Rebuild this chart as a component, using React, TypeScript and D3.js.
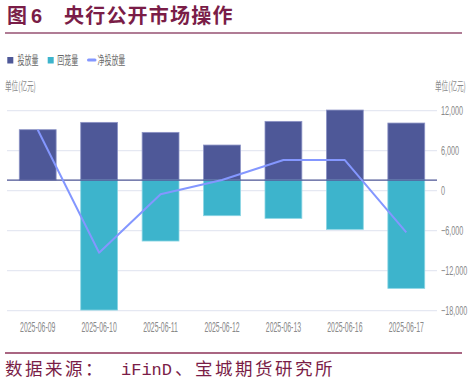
import React from 'react';
import * as d3 from 'd3';

const categories = ['2025-06-09', '2025-06-10', '2025-06-11', '2025-06-12', '2025-06-13', '2025-06-16', '2025-06-17'];
const injection = [7550, 8650, 7150, 5250, 8800, 10500, 8550];
const withdrawal = [0, 19500, 9150, 5350, 5750, 7400, 16250];
const netInjection = [9150, -9300, -540, 1600, 4600, 4600, -6240];
const rightTicks = [12000, 6000, 0, -6000, -12000, -18000];
const legendLabels = ['投放量', '回笼量', '净投放量'];

const W = 473, H = 383;
const plotLeft = 7, plotRight = 437, plotTop = 110.7, plotBottom = 310.7;
const C_INJ = '#4e5898';
const C_WD = '#3db4cc';
const C_NET = '#8497ff';
const C_TITLE = '#7a1d47';
const CJK = '"Noto Sans CJK SC", "Noto Sans", sans-serif';
const GRAY = '#8a8a8a';

export default function App() {
  const x = d3.scaleBand<string>().domain(categories).range([plotLeft, plotRight]).paddingInner(0.4).paddingOuter(0.2);
  const yR = d3.scaleLinear().domain([-18000, 12000]).range([plotBottom, plotTop]);
  const yL = d3.scaleLinear().domain([-19600, 10400]).range([plotBottom, plotTop]);
  const bw = x.bandwidth();
  const cx = (c: string) => (x(c) as number) + bw / 2;
  const line = d3.line<number>().x((_, i) => cx(categories[i])).y((d) => yR(d));
  const fmt = d3.format(',');

  return (
    <svg width={W} height={H} style={{ position: 'absolute', left: 0, top: 0, display: 'block', background: '#fff' }}>
      {/* Title */}
      <text y={23} fill={C_TITLE} fontFamily={CJK} fontWeight={700} fontSize={20}>
        <tspan x={7}>图</tspan>
        <tspan x={31} fontFamily='"Liberation Sans", Arial, sans-serif'>6</tspan>
        <tspan x={64} letterSpacing={1.2}>央行公开市场操作</tspan>
      </text>
      <line x1={5} x2={462} y1={33} y2={33} stroke="#b07c95" strokeWidth={2.2} />

      {/* Legend */}
      <g fontFamily={CJK} fontSize={12} fill="#666">
        <rect x={7.3} y={57} width={6} height={6.5} fill={C_INJ} />
        <text transform="translate(17.5,64.5) scale(0.58,1)">{legendLabels[0]}</text>
        <rect x={47.7} y={57} width={6} height={6.5} fill={C_WD} />
        <text transform="translate(57.3,64.5) scale(0.58,1)">{legendLabels[1]}</text>
        <line x1={88.5} x2={95} y1={60} y2={60} stroke={C_NET} strokeWidth={3} strokeLinecap="round" />
        <text transform="translate(97.5,64.5) scale(0.58,1)">{legendLabels[2]}</text>
      </g>

      {/* Units */}
      <g fontFamily={CJK} fontSize={12} fill={GRAY}>
        <text transform="translate(5,90.5) scale(0.55,1)">单位(亿元)</text>
        <text transform="translate(435,91) scale(0.55,1)">单位(亿元)</text>
      </g>

      {/* Gridlines */}
      {rightTicks.map((t) => (
        <line key={'g' + t} x1={plotLeft} x2={plotRight} y1={yR(t)} y2={yR(t)} stroke="#e5e8f2" strokeWidth={1.3} />
      ))}

      {/* Right tick labels */}
      <g fontFamily='"Liberation Sans", Arial, sans-serif' fontSize={12.5} fill={GRAY}>
        {rightTicks.map((t) => (
          <text key={'t' + t} transform={`translate(441,${yR(t) + 4.3}) scale(0.58,1)`}>{fmt(t)}</text>
        ))}
      </g>

      {/* Bars */}
      {categories.map((c, i) => (
        <g key={'b' + c}>
          {injection[i] > 0 && (
            <rect x={x(c)} y={yL(injection[i])} width={bw} height={yL(0) - yL(injection[i])} fill={C_INJ} stroke="#8d94c6" strokeWidth={0.8} />
          )}
          {withdrawal[i] > 0 && (
            <rect x={x(c)} y={yL(0)} width={bw} height={yL(-withdrawal[i]) - yL(0)} fill={C_WD} stroke="#8bd5e4" strokeWidth={0.8} />
          )}
        </g>
      ))}

      {/* Zero line of bar axis */}
      <line x1={plotLeft} x2={plotRight} y1={yL(0)} y2={yL(0)} stroke="#4c5594" strokeWidth={1.3} />

      {/* Net line */}
      <path d={line(netInjection) || ''} fill="none" stroke={C_NET} strokeWidth={2} strokeLinejoin="round" />

      {/* X labels */}
      <g fontFamily='"Liberation Sans", Arial, sans-serif' fontSize={15} fill={GRAY}>
        {categories.map((c) => (
          <text key={'x' + c} transform={`translate(${cx(c)},331.5) scale(0.46,1)`} textAnchor="middle">{c}</text>
        ))}
      </g>

      {/* Bottom source */}
      <line x1={5} x2={462} y1={353} y2={353} stroke="#8c3358" strokeWidth={1.5} />
      <text y={375} fill={C_TITLE} fontFamily={CJK} fontSize={17.5}>
        <tspan x={5} letterSpacing={2.5}>数据来源：</tspan>
        <tspan x={121} fontFamily='"Liberation Mono", "DejaVu Sans Mono", monospace' fontSize={17}>iFinD</tspan>
        <tspan x={175} letterSpacing={2.5}>、宝城期货研究所</tspan>
      </text>
    </svg>
  );
}
